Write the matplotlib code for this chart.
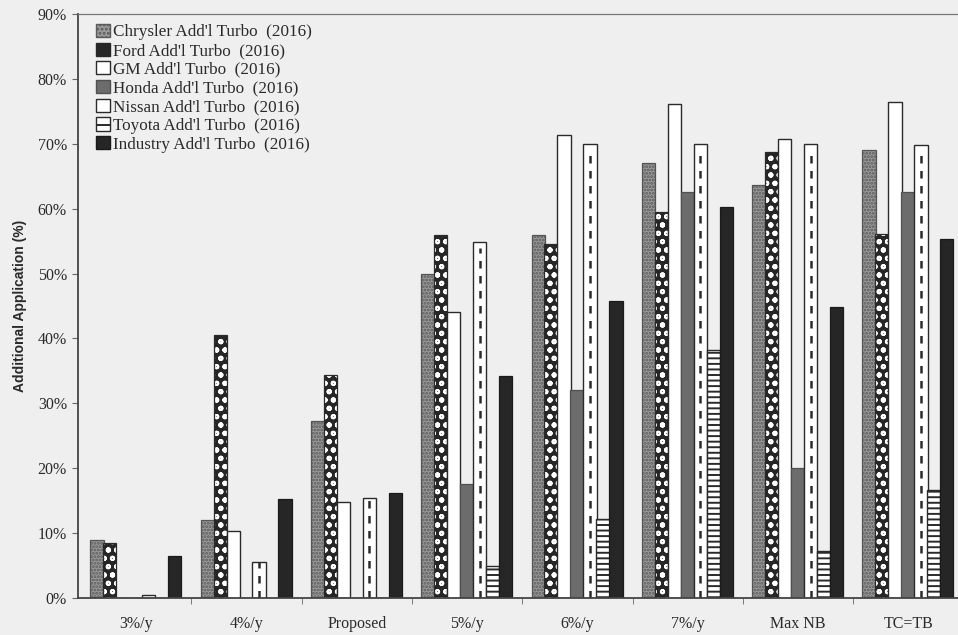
import numpy as np
import matplotlib
matplotlib.use("Agg")
import matplotlib.pyplot as plt
from matplotlib.patches import Patch
from matplotlib.ticker import PercentFormatter, FixedLocator

# scenario groups along the x axis
scenarios = ["3%/y", "4%/y", "Proposed", "5%/y", "6%/y", "7%/y", "Max NB", "TC=TB"]

# additional turbo application (%) per manufacturer
chrysler = [9.0, 12.0, 27.3, 50.0, 56.0, 67.0, 63.7, 69.0]
ford = [8.5, 40.5, 34.3, 56.0, 54.5, 59.5, 68.7, 56.1]
gm = [0.0, 10.3, 14.8, 44.0, 71.4, 76.2, 70.8, 76.4]
honda = [0.0, 0.0, 0.0, 17.6, 32.0, 62.6, 20.0, 62.6]
nissan = [0.5, 5.6, 15.4, 54.8, 70.0, 69.9, 69.9, 69.8]
toyota = [0.0, 0.0, 0.0, 5.0, 12.2, 38.2, 7.2, 16.6]
industry = [6.5, 15.2, 16.2, 34.2, 45.7, 60.3, 44.8, 55.4]

labels = ["Chrysler Add'l Turbo  (2016)", "Ford Add'l Turbo  (2016)",
          "GM Add'l Turbo  (2016)", "Honda Add'l Turbo  (2016)",
          "Nissan Add'l Turbo  (2016)", "Toyota Add'l Turbo  (2016)",
          "Industry Add'l Turbo  (2016)"]

plt.rcParams['hatch.linewidth'] = 1.4
bg = '#efefef'
ink = '#2a2a2a'
serif = ['Liberation Serif', 'DejaVu Serif']

fig = plt.figure(figsize=(9.58, 6.35), dpi=100, facecolor=bg)
ax = fig.add_axes([78 / 958, 37 / 635, 880 / 958, 584 / 635])
ax.set_facecolor(bg)

x = np.arange(len(scenarios))
step = 0.1175
width = 0.12


def pos(k):
    return x + (k - 3) * step - 0.004


# Chrysler: grey with fine dots
ax.bar(pos(0), chrysler, width, color='#9a9a9a', edgecolor='#5a5a5a',
       hatch='.....', lw=0)
ax.bar(pos(0), chrysler, width, facecolor='none', edgecolor='#555555', lw=0.9)
# Ford: dark with small white rings
ax.bar(pos(1), ford, width, color='#262626', edgecolor='white', hatch='oo', lw=0)
ax.bar(pos(1), ford, width, facecolor='none', edgecolor=ink, lw=0.9)
# GM: white
ax.bar(pos(2), gm, width, color='white', edgecolor=ink, lw=1.0)
# Honda: mid/dark grey
ax.bar(pos(3), honda, width, color='#6c6c6c', edgecolor='#505050', lw=0.9)
# Nissan: white with dashed centre line
ax.bar(pos(4), nissan, width, color='white', edgecolor=ink, lw=1.0)
nis = np.array(nissan)
ax.vlines(pos(4)[nis > 2], 0, nis[nis > 2] * 0.985, colors=ink, lw=1.8,
          linestyles=(0, (3, 3)))
# Toyota: horizontal stripes
ax.bar(pos(5), toyota, width, color='white', edgecolor=ink, hatch='---', lw=1.0)
# Industry: near black
ax.bar(pos(6), industry, width, color='#262626', edgecolor='#1a1a1a', lw=0.9)

ax.set_xlim(-0.528, 7.45)
ax.set_ylim(0, 90)
ax.yaxis.set_major_locator(FixedLocator(np.arange(0, 91, 10)))
ax.yaxis.set_major_formatter(PercentFormatter(100, decimals=0))
ax.set_xticks(x)
ax.set_xticklabels(scenarios)
ax.set_xticks(x[:-1] + 0.5, minor=True)
ax.tick_params(axis='x', which='major', length=0, pad=13, labelsize=11.5,
               colors=ink)
ax.tick_params(axis='x', which='minor', length=4, color='#666666')
ax.tick_params(axis='y', length=4, pad=4, labelsize=11.5, colors=ink,
               color='#666666')
for lab in ax.get_xticklabels() + ax.get_yticklabels():
    lab.set_family(serif)

for s in ['left', 'bottom']:
    ax.spines[s].set_color('#444444')
    ax.spines[s].set_linewidth(1.3)
ax.spines['top'].set_color('#777777')
ax.spines['top'].set_linewidth(0.9)
ax.spines['right'].set_visible(False)

ax.set_ylabel("Additional Application (%)", fontsize=10, fontweight='bold',
              family=['Liberation Sans Narrow', 'Liberation Sans', 'DejaVu Sans'],
              color=ink)
ax.yaxis.set_label_coords((27 - 78) / 880, 0.5)

handles = [
    Patch(facecolor='#9a9a9a', edgecolor='#5a5a5a', hatch='....'),
    Patch(facecolor='#262626', edgecolor='#262626'),
    Patch(facecolor='white', edgecolor=ink),
    Patch(facecolor='#6c6c6c', edgecolor='#505050'),
    Patch(facecolor='white', edgecolor=ink),
    Patch(facecolor='white', edgecolor=ink, hatch='-'),
    Patch(facecolor='#262626', edgecolor='#1a1a1a'),
]
ax.legend(handles, labels, loc='upper left',
          bbox_to_anchor=(18 / 880, 1 - 10 / 584), frameon=False,
          borderpad=0, borderaxespad=0, labelspacing=0.13,
          handlelength=0.8, handleheight=0.8, handletextpad=0.2,
          prop={'family': serif, 'size': 12.3}, labelcolor=ink)

fig.savefig("out.png", dpi=100, facecolor=bg)
